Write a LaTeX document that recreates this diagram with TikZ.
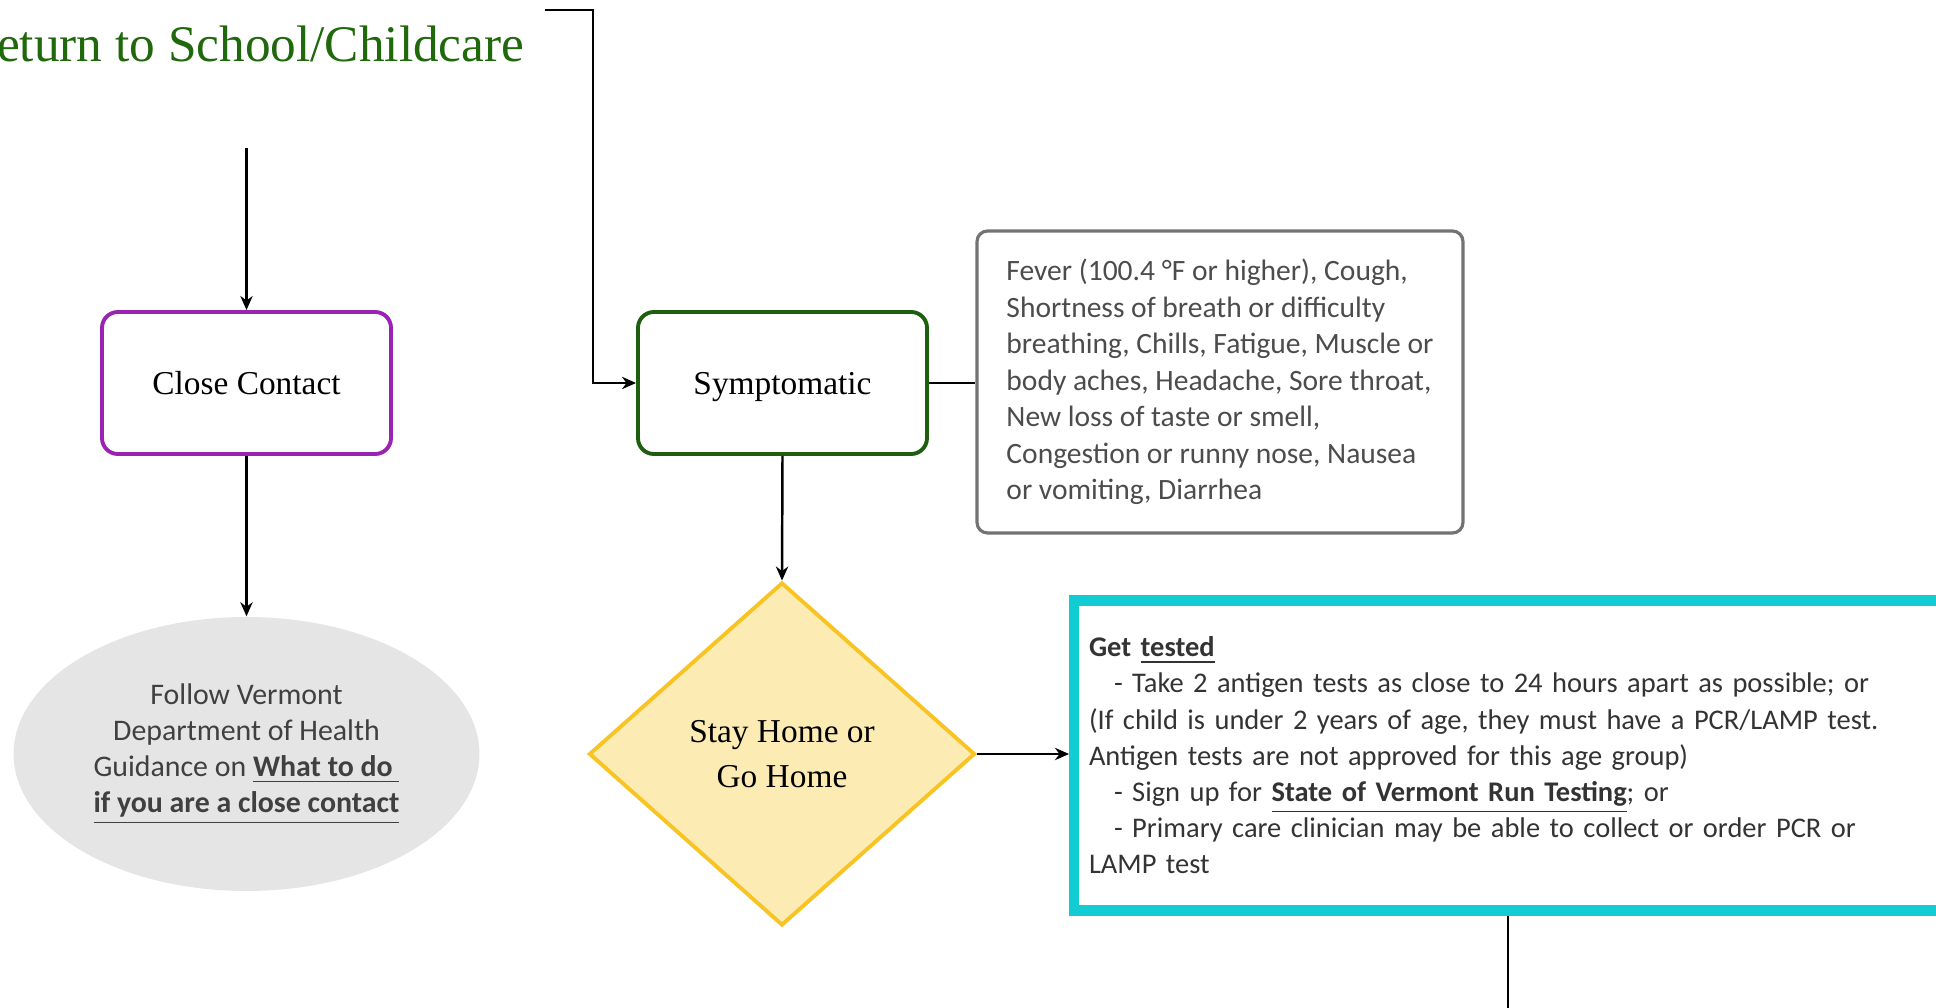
\documentclass[tikz,border=0pt]{standalone}
\usepackage{fontspec}
\setmainfont{Carlito}
\newfontfamily\headfont{Liberation Serif}
\usetikzlibrary{arrows.meta, shapes.geometric}
\definecolor{titlegreen}{RGB}{31,104,12}
\definecolor{ccpurple}{RGB}{155,35,180}
\definecolor{symgreen}{RGB}{30,95,15}
\definecolor{dfill}{RGB}{252,236,180}
\definecolor{ddraw}{RGB}{248,196,35}
\definecolor{testcyan}{RGB}{18,204,212}
\definecolor{ellgray}{RGB}{229,229,229}

\begin{document}
\begin{tikzpicture}[
        box/.style={draw, rounded corners=4.5pt, line width=1.1pt, fill=white,
                    minimum width=2.89cm, minimum height=1.42cm,
                    text height=1.6ex, text depth=0.2ex,
                    font=\headfont\fontsize{9.5}{11}\selectfont},
        note/.style={align=left, text=black!70, font=\fontsize{8.4}{10.4}\selectfont},
        arr/.style={-{Stealth[length=4pt, width=3.5pt]}, line width=0.7pt}
      ]
      \useasboundingbox (0,0) rectangle (19.36,-10.08);
      \node[anchor=base east, text=titlegreen, inner sep=0pt,
            font=\headfont\fontsize{14.6}{18}\selectfont] (title) at (5.25,-0.62) {Return to School/Childcare};
      \node[box, draw=ccpurple] (close) at (2.465,-3.83) {Close Contact};
      \node[box, draw=symgreen] (sympt) at (7.825,-3.83) {Symptomatic};
      \node[note, draw=black!55, line width=0.9pt, rounded corners=3pt,
            minimum width=4.86cm, minimum height=3.02cm] (signs) at (12.2,-3.82)
        {Fever (100.4 °F or higher), Cough,\\ Shortness of breath or difficulty\\
         breathing, Chills, Fatigue, Muscle or\\ body aches, Headache, Sore throat,\\
         New loss of taste or smell,\\ Congestion or runny nose, Nausea\\ or vomiting, Diarrhea};
      \node[ellipse, fill=ellgray, minimum width=4.62cm, minimum height=2.74cm,
            align=center, text=black!75, font=\fontsize{8.5}{10.3}\selectfont] (guide) at (2.465,-7.54)
        {Follow Vermont\\ Department of Health\\ Guidance on \textbf{\underline{What to do\ }}\\
         \textbf{\underline{if you are a close contact}}};
      \node[diamond, fill=dfill, draw=ddraw, line width=1.1pt, inner sep=0pt,
            minimum width=3.86cm, minimum height=3.43cm, align=center,
            font=\headfont\fontsize{9.5}{13}\selectfont] (home) at (7.82,-7.54) {Stay Home or\\ Go Home};
      \node[draw=testcyan, line width=2.85pt, anchor=west, minimum height=3.1cm,
            text width=8.6cm, inner xsep=0.15cm, align=left, text=black!80,
            font=\fontsize{8.1}{10.3}\selectfont] (tested) at (10.69,-7.555)
        {\textbf{Get \underline{tested}}\\
         \hspace*{0.25cm}- Take 2 antigen tests as close to 24 hours apart as possible; or\\
         (If child is under 2 years of age, they must have a PCR/LAMP test.\\
         Antigen tests are not approved for this age group)\\
         \hspace*{0.25cm}- Sign up for \textbf{\underline{State of Vermont Run Testing}}; or\\
         \hspace*{0.25cm}- Primary care clinician may be able to collect or order PCR or\\
         LAMP test};
      \coordinate (titleout) at (5.45,-0.10);
      \coordinate (ccin) at (2.465,-1.48);
      \coordinate (next) at (15.08,-10.2);
      \draw[arr] (titleout) -- ++(0.48,0) |- (sympt.west);
      \draw[arr] (ccin) -- (close.north);
      \draw[arr] (close.south) -- (guide.north);
      \draw[arr] (sympt.south) -- (home.north);
      \draw[line width=0.7pt] (sympt.east) -- (sympt.east -| signs.west);
      \draw[arr] (home.east) -- (home.east -| tested.west);
      \draw[line width=0.7pt] (tested.south -| next) -- (next);
    \end{tikzpicture}
\end{document}
